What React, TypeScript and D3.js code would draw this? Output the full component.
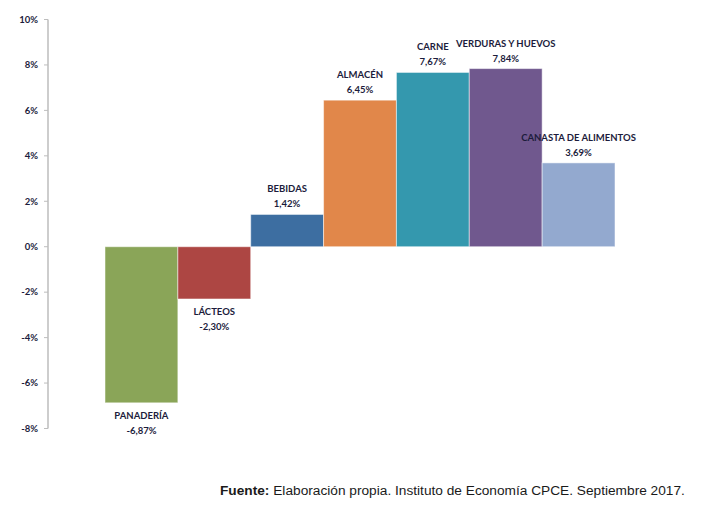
import * as d3 from "d3";
import { useEffect } from "react";

const categories = [
  "PANADERÍA",
  "LÁCTEOS",
  "BEBIDAS",
  "ALMACÉN",
  "CARNE",
  "VERDURAS Y HUEVOS",
  "CANASTA DE ALIMENTOS",
];
const values = [-6.87, -2.3, 1.42, 6.45, 7.67, 7.84, 3.69];
const colors = ["#8aa558", "#ad4643", "#3d6ea1", "#e1874a", "#3498ae", "#70588e", "#93a9cf"];
const yTicks = [10, 8, 6, 4, 2, 0, -2, -4, -6, -8];

const width = 709;
const height = 519;
const axisX = 48;
const labelFont = "Lato, 'Liberation Sans', sans-serif";
const textColor = "#1c1c3c";

export default function App() {
  useEffect(() => {
    document.body.style.margin = "0";
  }, []);

  const y = d3.scaleLinear().domain([-8, 10]).range([428.5, 19.5]);
  const x = d3.scaleBand<string>().domain(categories).range([105, 615]).padding(0);
  const fmt = (v: number) => v.toFixed(2).replace(".", ",") + "%";

  return (
    <svg width={width} height={height} style={{ display: "block", background: "#fff" }}>
      {/* y axis */}
      <line x1={axisX} x2={axisX} y1={y(10)} y2={y(-8)} stroke="#bdbdbd" strokeWidth={1.5} />
      {yTicks.map((t) => (
        <g key={t} transform={`translate(0,${y(t)})`}>
          <line x1={axisX - 4} x2={axisX} stroke="#bdbdbd" strokeWidth={1} />
          <text
            x={38}
            dy="0.35em"
            textAnchor="end"
            fontFamily={labelFont}
            fontWeight="bold"
            fontSize={9.5}
            fill={textColor}
          >
            {t + "%"}
          </text>
        </g>
      ))}

      {/* bars */}
      {categories.map((c, i) => {
        const v = values[i];
        const x0 = x(c)!;
        const top = y(Math.max(0, v));
        const bottom = y(Math.min(0, v));
        return (
          <rect
            key={c}
            x={x0}
            y={top}
            width={x.bandwidth()}
            height={bottom - top}
            fill={colors[i]}
            stroke="#ffffff"
            strokeOpacity={0.5}
            strokeWidth={1}
          />
        );
      })}

      {/* labels */}
      {categories.map((c, i) => {
        const v = values[i];
        const cx = x(c)! + x.bandwidth() / 2;
        const nameY = v >= 0 ? y(v) - 22 : y(v) + 16;
        return (
          <text
            key={c}
            x={cx}
            textAnchor="middle"
            fontFamily={labelFont}
            fontWeight="bold"
            fontSize={9.5}
            fill={textColor}
          >
            <tspan x={cx} y={nameY}>{c}</tspan>
            <tspan x={cx} y={nameY + 15}>{fmt(v)}</tspan>
          </text>
        );
      })}

      {/* source */}
      <text
        x={220}
        y={495}
        fontFamily="'Liberation Sans', Arial, sans-serif"
        fontSize={13.7}
        fill="#1a1a1a"
      >
        <tspan fontWeight="bold">Fuente:</tspan>
        <tspan> Elaboración propia. Instituto de Economía CPCE. Septiembre 2017.</tspan>
      </text>
    </svg>
  );
}
